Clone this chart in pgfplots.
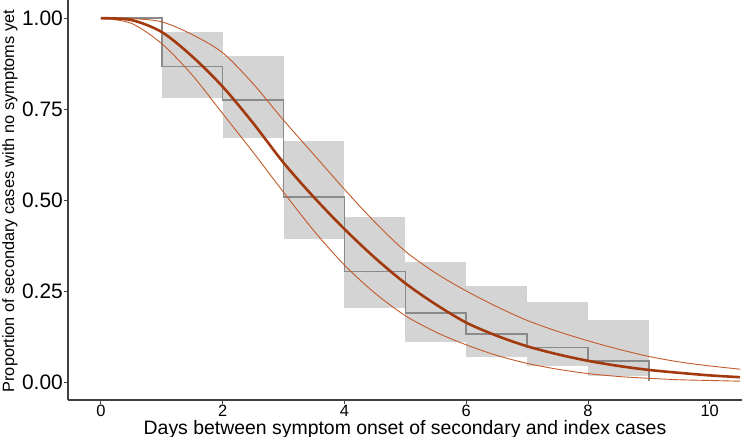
\documentclass[border=0pt]{standalone}
\usepackage{fontspec}
\setmainfont{Liberation Sans}
\usepackage{pgfplots}
\pgfplotsset{compat=1.18}

\definecolor{fitcol}{HTML}{A33A0F}
\definecolor{cicol}{HTML}{C25A2A}
\definecolor{boxcol}{HTML}{D4D4D4}
\definecolor{stepcol}{HTML}{8A8A8A}

\begin{document}
\begin{tikzpicture}
\begin{axis}[
  scale only axis,
  width=674bp, height=400bp,
  xmin=-0.54, xmax=10.53,
  ymin=-0.0486, ymax=1.050,
  axis lines*=left,
  axis line style={black!75, line width=1.1bp},
  tick align=outside,
  major tick length=4bp,
  tick style={black!75, line width=0.9bp},
  xtick={0,2,4,6,8,10},
  ytick={0,0.25,0.5,0.75,1},
  /pgf/number format/assume math mode=true,
  yticklabel style={font=\fontsize{21}{21}\selectfont, inner sep=1bp,
    /pgf/number format/fixed, /pgf/number format/fixed zerofill,
    /pgf/number format/precision=2},
  xticklabel style={font=\fontsize{16.5}{16.5}\selectfont, inner sep=1bp},
  xlabel={Days between symptom onset of secondary and index cases},
  ylabel={Proportion of secondary cases with no symptoms yet},
  xlabel style={font=\fontsize{19.5}{19.5}\selectfont, at={(axis description cs:0.5,-0.085)}, anchor=base, inner sep=0pt},
  ylabel style={font=\fontsize{16.4}{16.4}\selectfont, at={(axis description cs:-0.0979,0.497)}, rotate=0, anchor=north, inner sep=0pt},
  clip=true,
]

% confidence boxes of the empirical curve
\addplot[fill=boxcol, draw=none] coordinates {(1,0.782)(2,0.782)(2,0.963)(1,0.963)} -- cycle;
\addplot[fill=boxcol, draw=none] coordinates {(2,0.670)(3,0.670)(3,0.895)(2,0.895)} -- cycle;
\addplot[fill=boxcol, draw=none] coordinates {(3,0.394)(4,0.394)(4,0.663)(3,0.663)} -- cycle;
\addplot[fill=boxcol, draw=none] coordinates {(4,0.203)(5,0.203)(5,0.455)(4,0.455)} -- cycle;
\addplot[fill=boxcol, draw=none] coordinates {(5,0.110)(6,0.110)(6,0.330)(5,0.330)} -- cycle;
\addplot[fill=boxcol, draw=none] coordinates {(6,0.069)(7,0.069)(7,0.265)(6,0.265)} -- cycle;
\addplot[fill=boxcol, draw=none] coordinates {(7,0.045)(8,0.045)(8,0.220)(7,0.220)} -- cycle;
\addplot[fill=boxcol, draw=none] coordinates {(8,0.018)(9,0.018)(9,0.171)(8,0.171)} -- cycle;

% empirical step curve
\addplot[const plot, stepcol, line width=1.5bp] coordinates {
  (0,1.000)(1,0.868)(2,0.775)(3,0.509)(4,0.304)(5,0.191)(6,0.133)(7,0.095)(8,0.058)(9,0.003)
};

% fitted curve, upper and lower bounds
\addplot[smooth, cicol, line width=0.9bp] coordinates {
  (0,1.000)(0.5,0.999)(1,0.990)(1.5,0.955)(2,0.905)(2.5,0.820)(3,0.720)(3.5,0.625)
  (4,0.530)(4.5,0.440)(5,0.360)(5.5,0.300)(6,0.251)(6.5,0.208)(7,0.170)(7.5,0.140)
  (8,0.114)(8.5,0.091)(9,0.071)(9.5,0.056)(10,0.045)(10.5,0.036)
};
\addplot[smooth, cicol, line width=0.9bp] coordinates {
  (0,1.000)(0.5,0.986)(1,0.930)(1.5,0.844)(2,0.738)(2.5,0.632)(3,0.522)(3.5,0.416)
  (4,0.322)(4.5,0.245)(5,0.183)(5.5,0.138)(6,0.103)(6.5,0.074)(7,0.052)(7.5,0.036)
  (8,0.024)(8.5,0.016)(9,0.011)(9.5,0.007)(10,0.005)(10.5,0.003)
};
\addplot[smooth, fitcol, line width=2.6bp] coordinates {
  (0,1.000)(0.5,0.995)(1,0.962)(1.5,0.895)(2,0.812)(2.5,0.712)(3,0.603)(3.5,0.508)
  (4,0.421)(4.5,0.342)(5,0.272)(5.5,0.214)(6,0.164)(6.5,0.128)(7,0.099)(7.5,0.077)
  (8,0.059)(8.5,0.045)(9,0.034)(9.5,0.026)(10,0.019)(10.5,0.014)
};

\end{axis}
\pgfresetboundingbox
\path (current axis.south west) ++(-68bp,-37bp) rectangle (current axis.north east);
\end{tikzpicture}
\end{document}
